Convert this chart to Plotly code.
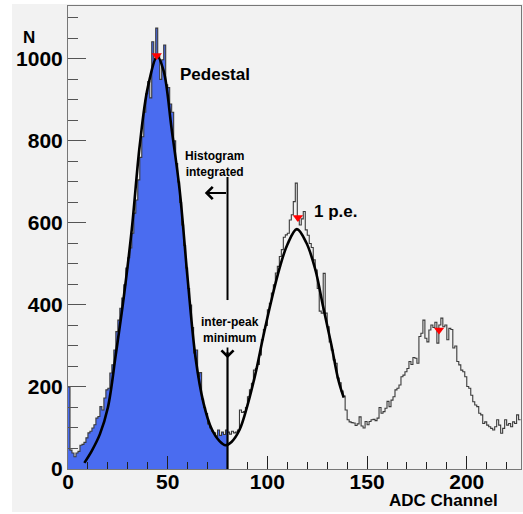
import plotly.graph_objects as go

# ---------------- data ----------------
# counts per ADC channel (bin width 1, channels 0..226)
counts = [
    200, 46, 39, 30, 39, 43, 58, 60, 65, 76,
    88, 92, 100, 108, 124, 128, 152, 144, 173, 193,
    197, 234, 254, 290, 335, 363, 392, 417, 449, 490,
    515, 539, 575, 624, 656, 705, 760, 810, 870, 915,
    945, 905, 1042, 1000, 1075, 1010, 950, 998, 1034, 937,
    930, 890, 870, 800, 745, 700, 650, 595, 545, 490,
    440, 400, 345, 283, 290, 225, 235, 170, 150, 135,
    110, 100, 92, 88, 80, 95, 82, 90, 84, 95,
    90, 85, 92, 88, 90, 95, 144, 138, 140, 150,
    176, 193, 209, 241, 245, 255, 278, 315, 340, 350,
    388, 404, 429, 449, 478, 494, 518, 535, 565, 571,
    575, 607, 620, 652, 697, 607, 595, 610, 628, 583,
    570, 550, 540, 510, 485, 440, 385, 380, 477, 380,
    347, 310, 290, 266, 258, 222, 210, 190, 178, 144,
    120, 115, 113, 112, 106, 110, 127, 105, 100, 116,
    108, 116, 120, 121, 118, 124, 150, 136, 140, 148,
    165, 152, 168, 176, 193, 197, 205, 225, 229, 237,
    245, 262, 255, 272, 270, 258, 323, 331, 363, 319,
    310, 339, 351, 345, 358, 307, 351, 368, 347, 351,
    315, 343, 340, 295, 300, 262, 254, 241, 237, 225,
    201, 197, 180, 164, 156, 152, 136, 132, 111, 115,
    107, 103, 99, 95, 103, 120, 107, 87, 99, 120,
    107, 111, 103, 115, 111, 132, 120,
]
channels = list(range(len(counts)))           # lower bin edges
integration_limit = 80                        # inter-peak minimum channel

# fitted curve (double gaussian)
fit_x = [8.2, 12, 16, 20, 24, 28, 32, 36, 40, 44.8, 48, 52, 56, 60, 64, 68, 72,
         76, 79, 82, 86, 90, 94, 98, 102, 106, 110, 114.8, 119.6, 124, 128, 132,
         135.6, 138.3]
fit_y = [15, 45, 85, 150, 280, 420, 585, 790, 930, 1006, 970, 828, 680, 464,
         270, 160, 98, 68, 58, 66, 95, 155, 232, 325, 411, 488, 547, 585, 551,
         487, 395, 305, 217, 174]

# peak markers
peak_x = [44.5, 115.3, 186.1]
peak_y = [1008, 613, 339]

x_ticks = [0, 50, 100, 150, 200]
y_ticks = [0, 200, 400, 600, 800, 1000]

# ---------------- figure ----------------
edges_all = channels + [channels[-1] + 1]
vals_all = counts + [counts[-1]]
n_int = integration_limit
edges_int = channels[:n_int] + [n_int]
vals_int = counts[:n_int] + [counts[n_int - 1]]

fig = go.Figure()

fig.add_trace(go.Scatter(
    x=edges_int, y=vals_int, mode="lines", line_shape="hv",
    line=dict(width=0, color="rgba(0,0,0,0)"),
    fill="tozeroy", fillcolor="#4a6cf0", hoverinfo="skip", showlegend=False))

fig.add_trace(go.Scatter(
    x=edges_all, y=vals_all, mode="lines", line_shape="hv",
    line=dict(width=1.1, color="#3a3a3a"), showlegend=False))

fig.add_trace(go.Scatter(
    x=fit_x, y=fit_y, mode="lines", line_shape="spline",
    line=dict(width=2.6, color="black"), showlegend=False))

fig.add_trace(go.Scatter(
    x=peak_x, y=peak_y, mode="markers",
    marker=dict(symbol="triangle-down", size=9, color="#ff0000"),
    showlegend=False))

bold = "Liberation Sans"
anns = [
    dict(x=55.3, y=963, text="Pedestal", xanchor="left", yanchor="middle",
         font=dict(size=17, family=bold, weight="bold", color="black")),
    dict(x=122.5, y=629, text="1 p.e.", xanchor="left", yanchor="middle",
         font=dict(size=17, family=bold, weight="bold", color="black")),
    dict(x=73.3, y=744, text="Histogram<br>integrated", xanchor="center",
         yanchor="middle", font=dict(size=12, family=bold, weight="bold", color="black")),
    dict(x=81.4, y=339, text="inter-peak<br>minimum", xanchor="center",
         yanchor="middle", font=dict(size=12, family=bold, weight="bold", color="black")),
]
for a in anns:
    a.update(xref="x", yref="y", showarrow=False)

# arrows
anns.append(dict(x=68.6, y=673, ax=integration_limit, ay=673, xref="x", yref="y",
                 axref="x", ayref="y", text="", showarrow=True, arrowhead=4,
                 arrowsize=1.3, arrowwidth=1.8, arrowcolor="black"))
anns.append(dict(x=integration_limit, y=270, ax=integration_limit, ay=300, xref="x",
                 yref="y", axref="x", ayref="y", text="", showarrow=True,
                 arrowhead=4, arrowsize=1.3, arrowwidth=1.8, arrowcolor="black"))

anns.append(dict(x=-0.086, y=0.933, xref="paper", yref="paper", text="N",
                 showarrow=False, xanchor="center", yanchor="middle",
                 font=dict(size=17, family=bold, weight="bold", color="black")))
anns.append(dict(x=0.954, y=-0.067, xref="paper", yref="paper", text="ADC Channel",
                 showarrow=False, xanchor="right", yanchor="middle",
                 font=dict(size=17, family=bold, weight="bold", color="black")))

shapes = [
    # grey canvas
    dict(type="rect", xref="paper", yref="paper", x0=-0.1236, x1=1.0044,
         y0=-0.0929, y1=1.0043, fillcolor="#f2f2f2", line=dict(width=0),
         layer="below"),
    # integration boundary lines
    dict(type="line", xref="x", yref="y", x0=integration_limit, x1=integration_limit,
         y0=412, y1=712, line=dict(color="black", width=2)),
    dict(type="line", xref="x", yref="y", x0=integration_limit, x1=integration_limit,
         y0=0, y1=285, line=dict(color="black", width=2.2)),
]

fig.update_layout(
    width=523, height=514,
    margin=dict(l=68, r=2, t=6, b=45, autoexpand=False),
    paper_bgcolor="white", plot_bgcolor="#f2f2f2",
    annotations=anns, shapes=shapes,
    showlegend=False,
)
fig.update_xaxes(
    range=[0, 227.2], tickvals=x_ticks, ticktext=[str(v) for v in x_ticks],
    ticks="inside", ticklen=13, tickwidth=1, tickcolor="#222",
    minor=dict(ticks="inside", dtick=10, tick0=0, ticklen=7, tickcolor="#222"),
    showgrid=False, zeroline=False, showline=True, linecolor="#777",
    linewidth=1, mirror=True, automargin=False, ticklabelstandoff=-6,
    tickfont=dict(size=21, family=bold, weight="bold", color="black"),
)
fig.update_yaxes(
    range=[0, 1129], tickvals=y_ticks, ticktext=[str(v) for v in y_ticks],
    ticks="inside", ticklen=18, tickwidth=1, tickcolor="#555",
    minor=dict(ticks="inside", dtick=50, tick0=0, ticklen=10, tickcolor="#555"),
    showgrid=False, zeroline=False, showline=True, linecolor="#777",
    linewidth=1, mirror=True, automargin=False,
    tickfont=dict(size=21, family=bold, weight="bold", color="black"),
)

fig.write_html("out.html",
               config={"displayModeBar": False},
               post_script="document.body.style.margin='0';"
                           "document.body.style.overflow='hidden';")
